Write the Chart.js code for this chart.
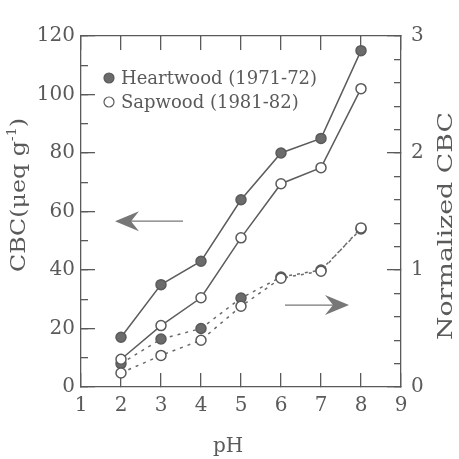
<!DOCTYPE html>
<html>
<head>
<meta charset="utf-8">
<script src="https://cdn.jsdelivr.net/npm/chart.js@4.4.0/dist/chart.umd.min.js"></script>
<style>
  html, body { margin: 0; padding: 0; background: #fff; }
  #cbcChart { display: block; }
</style>
</head>
<body>
<canvas id="cbcChart" width="459" height="459"></canvas>
<script>
// values
const phValues = [2, 3, 4, 5, 6, 7, 8];
const heartwoodCbc = [17, 35, 43, 64, 80, 85, 115];
const sapwoodCbc = [9.5, 21, 30.5, 51, 69.5, 75, 102];
const heartwoodNorm = [0.2, 0.41, 0.5, 0.76, 0.94, 1.0, 1.35];
const sapwoodNorm = [0.12, 0.27, 0.4, 0.69, 0.93, 0.99, 1.36];
const legendLabels = ['Heartwood (1971-72)', 'Sapwood (1981-82)'];

const ink = '#5a5a5a';
const serif = "'DejaVu Serif', serif";
const dark = '#6b6b6b';

function pairs(ys) { return phValues.map((x, i) => ({ x: x, y: ys[i] })); }

// inward tick marks drawn by the scales themselves (negative tick length)
function tickGrid(len) {
  return { display: true, drawOnChartArea: false, drawTicks: true, tickLength: -len,
    color: ink, tickColor: ink, lineWidth: 1.3, tickWidth: 1.3 };
}
const frameBorder = { display: true, color: ink, width: 1.3 };
const noBorder = { display: false };
const tickFont = { family: serif, size: 20 };

const annotations = {
  id: 'annotations',
  afterDraw(chart) {
    const c = chart.ctx, a = chart.chartArea;
    const sx = chart.scales.x, sy = chart.scales.y, sr = chart.scales.y1;
    c.save();
    c.fillStyle = ink;

    // left title with superscript, stretched to the length in the figure
    c.save();
    c.translate(25, 195);
    c.rotate(-Math.PI / 2);
    c.font = '20px ' + serif;
    const main = 'CBC(\u03bceq g';
    const w1 = c.measureText(main).width;
    const w3 = c.measureText(')').width;
    c.font = '12px ' + serif;
    const w2 = c.measureText('-1').width;
    const total = w1 + w2 + w3;
    c.scale(154 / total, 1);
    let cx = -total / 2;
    c.font = '20px ' + serif;
    c.fillText(main, cx, 0); cx += w1;
    c.font = '12px ' + serif;
    c.fillText('-1', cx, -9); cx += w2;
    c.font = '20px ' + serif;
    c.fillText(')', cx, 0);
    c.restore();

    // right title
    c.save();
    c.translate(452, 226);
    c.rotate(-Math.PI / 2);
    c.font = '20px ' + serif;
    const rt = 'Normalized CBC';
    const rw = c.measureText(rt).width;
    c.scale(228 / rw, 1);
    c.fillText(rt, -rw / 2, 0);
    c.restore();

    // x title
    c.font = '20px ' + serif;
    c.textAlign = 'center';
    c.fillText('pH', 228, 452);

    // legend
    c.textAlign = 'left';
    c.textBaseline = 'middle';
    c.font = '18px ' + serif;
    [dark, '#ffffff'].forEach((fill, i) => {
      const y = a.top + 42 + i * 24;
      c.beginPath();
      c.arc(a.left + 28, y, 5, 0, Math.PI * 2);
      c.fillStyle = fill;
      c.fill();
      c.lineWidth = 1.2;
      c.strokeStyle = ink;
      c.stroke();
      c.fillStyle = ink;
      c.fillText(legendLabels[i], a.left + 40, y + 1);
    });

    // arrows pointing to the axes
    function arrow(xTail, xTip, py) {
      const dir = Math.sign(xTip - xTail);
      c.strokeStyle = '#777';
      c.fillStyle = '#777';
      c.lineWidth = 1.3;
      c.beginPath();
      c.moveTo(xTail, py); c.lineTo(xTip - dir * 10, py);
      c.stroke();
      c.beginPath();
      c.moveTo(xTip, py);
      c.lineTo(xTip - dir * 24, py - 10);
      c.lineTo(xTip - dir * 16, py);
      c.lineTo(xTip - dir * 24, py + 10);
      c.closePath();
      c.fill();
    }
    arrow(sx.getPixelForValue(3.55), sx.getPixelForValue(1.85), sy.getPixelForValue(56.7));
    arrow(sx.getPixelForValue(6.1), sx.getPixelForValue(7.7), sr.getPixelForValue(0.70));
    c.restore();
  }
};

new Chart(document.getElementById('cbcChart').getContext('2d'), {
  type: 'line',
  data: {
    datasets: [
      { data: pairs(heartwoodCbc), xAxisID: 'x', yAxisID: 'y', borderColor: '#5c5c5c', borderWidth: 1.5,
        pointBackgroundColor: dark, pointBorderColor: ink },
      { data: pairs(sapwoodCbc), xAxisID: 'x', yAxisID: 'y', borderColor: '#5c5c5c', borderWidth: 1.5,
        pointBackgroundColor: '#fff', pointBorderColor: ink },
      { data: pairs(sapwoodNorm), xAxisID: 'x', yAxisID: 'y1', borderColor: '#6a6a6a', borderWidth: 1.5,
        borderDash: [3, 5], pointBackgroundColor: '#fff', pointBorderColor: ink },
      { data: pairs(heartwoodNorm), xAxisID: 'x', yAxisID: 'y1', borderColor: '#6a6a6a', borderWidth: 1.5,
        borderDash: [3, 5], pointBackgroundColor: dark, pointBorderColor: ink }
    ]
  },
  options: {
    responsive: false, animation: false, events: [],
    layout: { padding: { top: 23, left: 0, right: 0, bottom: 0 } },
    elements: { line: { tension: 0, fill: false }, point: { radius: 5, borderWidth: 1.2 } },
    plugins: { legend: { display: false }, tooltip: { enabled: false } },
    scales: {
      x: {
        type: 'linear', position: 'bottom', min: 1, max: 9,
        grid: tickGrid(14), border: frameBorder,
        ticks: { stepSize: 1, color: ink, font: tickFont, padding: 21, maxRotation: 0 },
        afterFit(s) { s.height = 72; }
      },
      xTop: {
        type: 'linear', position: 'top', min: 1, max: 9,
        grid: tickGrid(14), border: frameBorder,
        ticks: { display: false, stepSize: 1 },
        afterFit(s) { s.height = 0; }
      },
      y: {
        type: 'linear', position: 'left', min: 0, max: 120,
        grid: tickGrid(14), border: frameBorder,
        ticks: { stepSize: 20, color: ink, font: tickFont, padding: 20 },
        afterFit(s) { s.width = 81; }
      },
      yMinor: {
        type: 'linear', position: 'left', weight: -1, min: 0, max: 120,
        grid: tickGrid(7), border: noBorder,
        ticks: { display: false, stepSize: 10, autoSkip: false },
        afterFit(s) { s.width = 0; }
      },
      y1: {
        type: 'linear', position: 'right', min: 0, max: 3,
        grid: tickGrid(14), border: frameBorder,
        ticks: { stepSize: 1, color: ink, font: tickFont, padding: 24 },
        afterFit(s) { s.width = 58; }
      },
      y1Minor: {
        type: 'linear', position: 'right', weight: -1, min: 0, max: 3,
        grid: tickGrid(7), border: noBorder,
        ticks: { display: false, stepSize: 0.2, autoSkip: false },
        afterFit(s) { s.width = 0; }
      }
    }
  },
  plugins: [annotations]
});
</script>
</body>
</html>
